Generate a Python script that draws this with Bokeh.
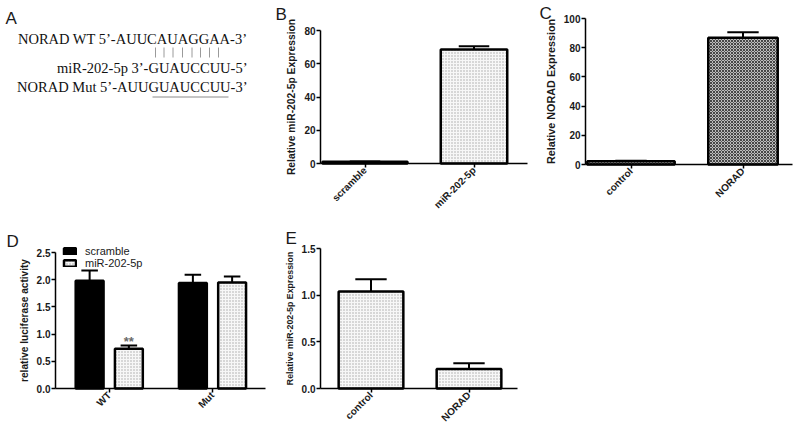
import math
from bokeh.plotting import figure
from bokeh.models import (Range1d, FixedTicker, Legend, LegendItem,
                          ColumnDataSource, PrintfTickFormatter)
from bokeh.layouts import column, row
from bokeh.embed import file_html
from bokeh.resources import INLINE
from bokeh.core.properties import value

# ---------------- data ----------------
# Panel A
seq_lines = ["NORAD WT 5\u2019-AUUCAUAGGAA-3\u2019",
             "miR-202-5p 3\u2019-GUAUCCUU-5\u2019",
             "NORAD Mut 5\u2019-AUUGUAUCCUU-3\u2019"]

# Panel B
b_cats = ["scramble", "miR-202-5p"]
b_vals = [1.0, 68.6]
b_errs = [0.2, 2.0]
b_ticks = [0, 20, 40, 60, 80]
b_ylabel = "Relative miR-202-5p Expression"

# Panel C
c_cats = ["control", "NORAD"]
c_vals = [2.3, 86.8]
c_errs = [0.3, 3.8]
c_ticks = [0, 20, 40, 60, 80, 100]
c_ylabel = "Relative NORAD Expression"

# Panel D
d_groups = ["WT", "Mut"]
d_series = ["scramble", "miR-202-5p"]
d_scramble = [1.98, 1.94]
d_scramble_err = [0.19, 0.15]
d_mir = [0.73, 1.95]
d_mir_err = [0.06, 0.11]
d_sig = ["**", ""]
d_ticks = [0.0, 0.5, 1.0, 1.5, 2.0, 2.5]
d_ylabel = "relative luciferase activity"

# Panel E
e_cats = ["control", "NORAD"]
e_vals = [1.04, 0.21]
e_errs = [0.13, 0.06]
e_ticks = [0.0, 0.5, 1.0, 1.5]
e_ylabel = "Relative miR-202-5p Expression"

# ---------------- style ----------------
SANS = "Liberation Sans"
SERIF = "Liberation Serif"
INK = "#1a1a1a"
LIFT = -4  # screen-pixel nudge for text glyphs

DOTTED = dict(fill_color="#f7f7f7", hatch_pattern="dot", hatch_color="#a8a8a8",
              hatch_scale=3, hatch_weight=1, line_color="black", line_width=2.5)
CROSS = dict(fill_color="#bdbdbd", hatch_pattern="diagonal_cross", hatch_color="#474747",
             hatch_scale=3, hatch_weight=1, line_color="black", line_width=2.5)
SOLID = dict(fill_color="black", line_color="black", line_width=2.5)


def make_panel(left, top, w, h, ax, y0, ytop, ymax, c0, u, xe):
    """Figure whose frame fills the whole canvas; axes pinned with fixed_location."""
    sy = (y0 - ytop) / ymax
    xr = ((left - c0) / u, (left + w - c0) / u)
    yr = (-(top + h - y0) / sy, (y0 - top) / sy)
    p = figure(width=w, height=h, x_range=Range1d(*xr), y_range=Range1d(*yr),
               output_backend="svg", toolbar_location=None, min_border=0)
    p.outline_line_color = None
    p.xgrid.visible = False
    p.ygrid.visible = False
    xa = (ax - c0) / u
    p.yaxis.fixed_location = xa
    p.xaxis.fixed_location = 0
    p.yaxis.bounds = (0, ymax)
    p.xaxis.bounds = (xa, (xe - c0) / u)
    return p, dict(c0=c0, u=u, y0=y0, sy=sy)


def style_axes(p, cats, yticks, ylabel, label_size, yfmt=None):
    p.xaxis.ticker = FixedTicker(ticks=list(range(len(cats))))
    p.xaxis.major_label_overrides = {i: c for i, c in enumerate(cats)}
    p.xaxis.major_label_orientation = math.pi / 4
    p.yaxis.ticker = FixedTicker(ticks=yticks)
    if yfmt:
        p.yaxis.formatter = PrintfTickFormatter(format=yfmt)
    p.yaxis.axis_label = ylabel
    p.yaxis.axis_label_text_font = SANS
    p.yaxis.axis_label_text_font_style = "bold"
    p.yaxis.axis_label_text_font_size = label_size
    p.yaxis.axis_label_text_color = INK
    p.yaxis.axis_label_standoff = 4
    for ax in (p.xaxis[0], p.yaxis[0]):
        ax.axis_line_width = 1.5
        ax.axis_line_color = "black"
        ax.major_tick_line_width = 1.5
        ax.major_tick_line_color = "black"
        ax.major_tick_out = 4
        ax.major_tick_in = 0
        ax.minor_tick_out = 0
        ax.minor_tick_in = 0
        ax.major_label_text_font = SANS
        ax.major_label_text_font_style = "bold"
        ax.major_label_text_font_size = "10px"
        ax.major_label_text_color = INK
        ax.major_label_standoff = 1


def draw_bars(p, xs, tops, widths, style):
    src = ColumnDataSource(dict(x=xs, top=tops, w=widths))
    return p.vbar(x="x", top="top", width="w", bottom=0, source=src, **style)


def draw_err(p, xs, tops, errs, half_cap):
    ups = [t + e for t, e in zip(tops, errs)]
    p.segment(x0=xs, y0=tops, x1=xs, y1=ups, line_color="black", line_width=2)
    p.segment(x0=[x - half_cap for x in xs], y0=ups, x1=[x + half_cap for x in xs], y1=ups,
              line_color="black", line_width=2)


def panel_letter(p, g, px, py, letter):
    p.text(x=[(px - g["c0"]) / g["u"]], y=[(g["y0"] - py) / g["sy"]], text=[letter],
           text_font=value(SANS), text_font_size="17px", text_color=INK,
           text_baseline="alphabetic", y_offset=LIFT)


# ---------------- Panel A ----------------
pa = figure(width=270, height=215, x_range=Range1d(0, 270), y_range=Range1d(215, 0),
            output_backend="svg", toolbar_location=None, x_axis_type=None, y_axis_type=None,
            min_border=0)
pa.outline_line_color = None
pa.xgrid.visible = False
pa.ygrid.visible = False
pa.text(x=[5], y=[22], text=["A"], text_font=value(SANS), text_font_size="17px",
        text_color=INK, text_baseline="alphabetic", y_offset=LIFT)
pa.text(x=[247, 247, 247], y=[42.5, 71, 90], text=seq_lines, text_align="right",
        text_baseline="alphabetic", text_font=value(SERIF), text_font_size="14.5px",
        text_color="#111111", y_offset=LIFT)
pair_x = [155, 163.5, 172.5, 182, 191.5, 200, 209, 218]
pa.segment(x0=pair_x, y0=[47] * len(pair_x), x1=pair_x, y1=[57] * len(pair_x),
           line_color="#9a9a9a", line_width=1)
pa.segment(x0=[152], y0=[96.5], x1=[228], y1=[96.5], line_color="#8a8a8a", line_width=1)

# ---------------- Panel B ----------------
pb, gb = make_panel(270, 0, 265, 215, ax=320, y0=163, ytop=30, ymax=80, c0=364.5, u=109, xe=527)
bx = list(range(len(b_cats)))
draw_err(pb, bx, b_vals, b_errs, 0.14)
draw_bars(pb, [bx[0]], [b_vals[0]], [0.78], SOLID)
draw_bars(pb, [bx[1]], [b_vals[1]], [0.61], DOTTED)
style_axes(pb, b_cats, b_ticks, b_ylabel, "10.3px")
panel_letter(pb, gb, 275, 18, "B")

# ---------------- Panel C ----------------
pc, gc = make_panel(535, 0, 263, 215, ax=585, y0=164, ytop=18, ymax=100, c0=630.5, u=112, xe=792)
cx = list(range(len(c_cats)))
draw_err(pc, cx, c_vals, c_errs, 0.14)
draw_bars(pc, cx, c_vals, [0.78, 0.62], CROSS)
style_axes(pc, c_cats, c_ticks, c_ylabel, "10.8px")
panel_letter(pc, gc, 539, 17, "C")

# ---------------- Panel D ----------------
pd, gd = make_panel(0, 215, 270, 217, ax=55, y0=388, ytop=252, ymax=2.5, c0=108.75, u=103.25, xe=265)
gx = list(range(len(d_groups)))
sx = [g - 0.19 for g in gx]
mx = [g + 0.19 for g in gx]
draw_err(pd, sx, d_scramble, d_scramble_err, 0.08)
draw_err(pd, mx, d_mir, d_mir_err, 0.08)
r1 = draw_bars(pd, sx, d_scramble, [0.27] * len(sx), SOLID)
r2 = draw_bars(pd, mx, d_mir, [0.27] * len(mx), DOTTED)
pd.text(x=mx, y=[m + e for m, e in zip(d_mir, d_mir_err)], text=d_sig, text_align="center",
        text_baseline="alphabetic", text_font=value(SANS), text_font_style="bold",
        text_font_size="13px", text_color="#6a6a6a", y_offset=LIFT)
style_axes(pd, d_groups, d_ticks, d_ylabel, "10.1px", "%.1f")
legend = Legend(items=[LegendItem(label=d_series[0], renderers=[r1]),
                       LegendItem(label=d_series[1], renderers=[r2])],
                location=(62, 163), glyph_width=15, glyph_height=8, label_height=12,
                label_standoff=8, spacing=0, padding=0, margin=0,
                background_fill_alpha=0, border_line_alpha=0,
                label_text_font=SANS, label_text_font_size="11px", label_text_color=INK)
pd.add_layout(legend)
panel_letter(pd, gd, 6, 245, "D")

# ---------------- Panel E ----------------
pe, ge = make_panel(270, 215, 265, 217, ax=320, y0=388, ytop=248, ymax=1.5, c0=370.5, u=98, xe=517)
ex = list(range(len(e_cats)))
draw_err(pe, ex, e_vals, e_errs, 0.16)
draw_bars(pe, ex, e_vals, [0.66] * len(ex), DOTTED)
style_axes(pe, e_cats, e_ticks, e_ylabel, "8.8px", "%.1f")
panel_letter(pe, ge, 285, 242, "E")

layout = column(row(pa, pb, pc), row(pd, pe))
open("out.html", "w").write(file_html(layout, INLINE))
